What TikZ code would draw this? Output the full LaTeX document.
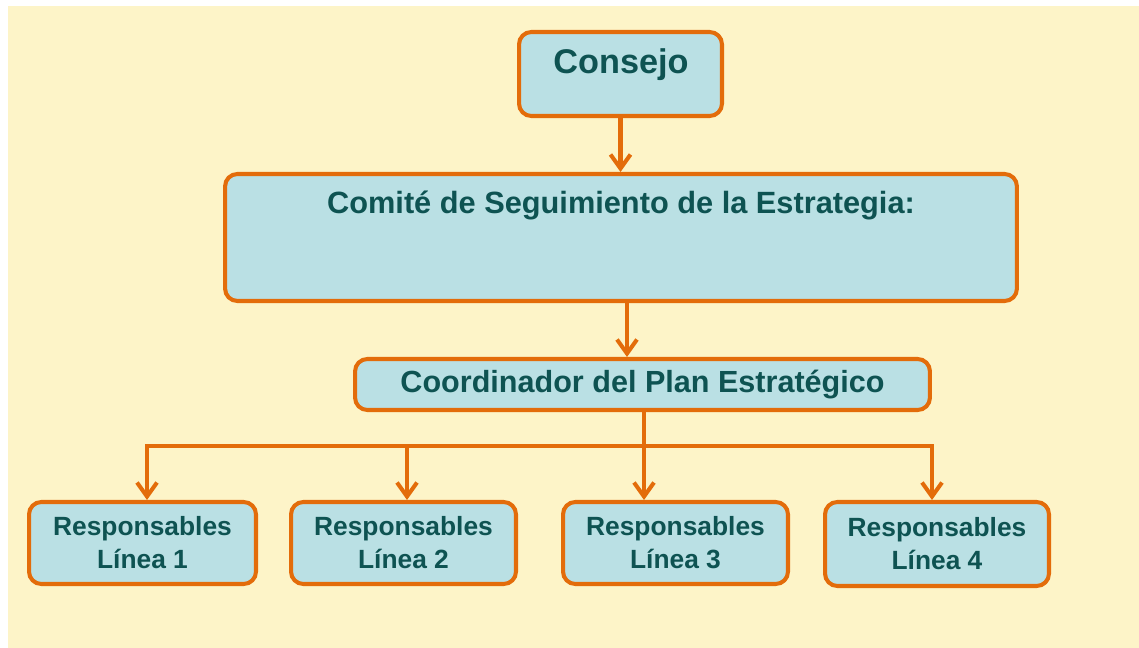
\documentclass[tikz,border=0pt]{standalone}
\usepackage{fontspec}
\setmainfont{Liberation Sans}
\usetikzlibrary{arrows.meta}
\definecolor{fondo}{HTML}{FDF4C8}
\definecolor{azulcaja}{HTML}{BAE0E4}
\definecolor{naranja}{HTML}{E36C0A}
\definecolor{verdetexto}{HTML}{0E5352}
\tikzset{
  caja/.style={draw=naranja, fill=azulcaja, line width=2.3pt, rounded corners=7pt, text=verdetexto, align=center},
  flecha/.style={draw=naranja, line width=2.3pt, ->},
  titulo/.style={text=verdetexto, anchor=base},
  >={Straight Barb[length=2.8mm,width=4mm]},
}
\begin{document}
\begin{tikzpicture}[x=0.02cm,y=-0.02cm]
\useasboundingbox (0,0) rectangle (1139,648);
\fill[white] (0,0) rectangle (1139,648);
\fill[fondo] (8,6) rectangle (1139,648);
% cajas
\node[caja, minimum width=4.06cm, minimum height=1.68cm] (consejo) at (620.5,74) {};
\node[titulo, font=\fontsize{19.5}{23}\selectfont\bfseries] (consejo-t) at (621,74) {Consejo};
\node[caja, minimum width=15.84cm, minimum height=2.54cm] (comite) at (621,237.5) {};
\node[titulo, font=\fontsize{17.5}{21}\selectfont\bfseries] (comite-t) at (621,214) {Comité de Seguimiento de la Estrategia:};
\node[caja, minimum width=11.5cm, minimum height=1.02cm, font=\fontsize{17.4}{21}\selectfont\bfseries] (coord) at (642.5,384.5) {Coordinador del Plan Estratégico};
\node[caja, minimum width=4.54cm, minimum height=1.64cm, font=\fontsize{15}{18.7}\selectfont\bfseries] (resp1) at (142.5,543) {Responsables\\Línea 1};
\node[caja, minimum width=4.5cm, minimum height=1.64cm, font=\fontsize{15}{18.7}\selectfont\bfseries] (resp2) at (403.5,543) {Responsables\\Línea 2};
\node[caja, minimum width=4.5cm, minimum height=1.64cm, font=\fontsize{15}{18.7}\selectfont\bfseries] (resp3) at (675.5,543) {Responsables\\Línea 3};
\node[caja, minimum width=4.48cm, minimum height=1.68cm, font=\fontsize{15}{18.7}\selectfont\bfseries] (resp4) at (937,544) {Responsables\\Línea 4};
% flechas
\coordinate (c2) at (627,0);
\coordinate (b1) at (147,446);
\coordinate (b2) at (407,446);
\coordinate (b3) at (644,446);
\coordinate (b4) at (932,446);
\draw[flecha] (consejo.south) -- (consejo.south |- comite.north);
\draw[flecha] (comite.south -| c2) -- (coord.north -| c2);
\draw[flecha, <->, line join=miter] (b1 |- resp1.north) -- (b1) -- (b4) -- (b4 |- resp4.north);
\draw[flecha] (b2) -- (b2 |- resp2.north);
\draw[flecha] (coord.south -| b3) -- (b3 |- resp3.north);
\end{tikzpicture}
\end{document}
